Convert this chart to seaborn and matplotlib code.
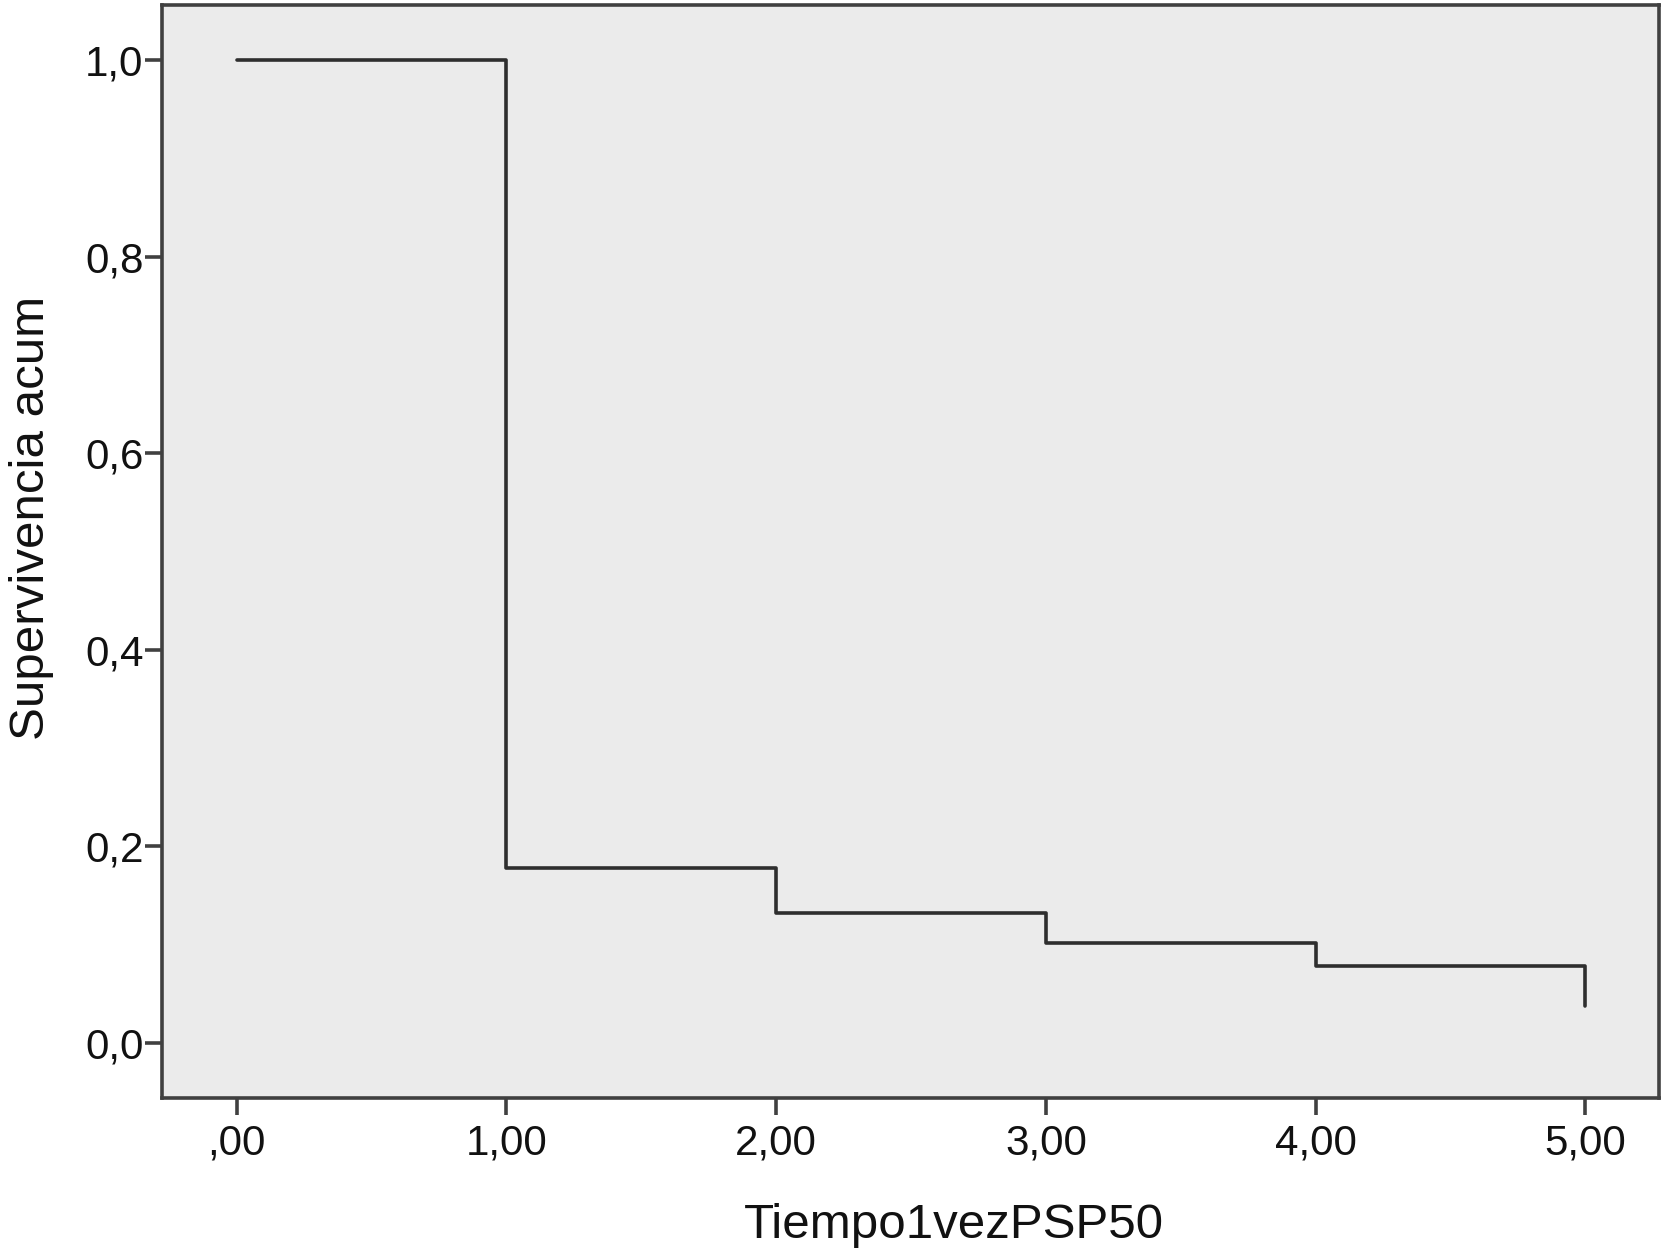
import seaborn as sns
import matplotlib.pyplot as plt
import pandas as pd
from matplotlib.ticker import FuncFormatter

# Kaplan-Meier style cumulative survival
tiempo = [0, 1, 2, 3, 4, 5]
supervivencia = [1.0, 0.1775, 0.132, 0.102, 0.078, 0.038]

x_ticks = [0, 1, 2, 3, 4, 5]
y_ticks = [0.0, 0.2, 0.4, 0.6, 0.8, 1.0]

LINE_COLOR = "#2e2e2e"
FACE_COLOR = "#ebebeb"
SPINE_COLOR = "#404040"

sns.set_style("ticks", {"axes.facecolor": FACE_COLOR})
plt.rcParams["font.family"] = ["Liberation Sans", "DejaVu Sans"]

df = pd.DataFrame({"Tiempo1vezPSP50": tiempo, "Supervivencia acum": supervivencia})

fig = plt.figure(figsize=(16.66, 12.52), dpi=100)
ax = fig.add_axes([0.097, 0.123, 0.899, 0.873])

sns.lineplot(
    data=df,
    x="Tiempo1vezPSP50",
    y="Supervivencia acum",
    drawstyle="steps-post",
    color=LINE_COLOR,
    linewidth=2.6,
    ax=ax,
)

ax.set_xlim(-0.278, 5.274)
ax.set_ylim(-0.056, 1.056)
ax.set_xticks(x_ticks)
ax.set_yticks(y_ticks)


def fmt_x(v, pos):
    s = f"{v:.2f}".replace(".", ",")
    return s[1:] if s.startswith("0,") else s


def fmt_y(v, pos):
    return f"{v:.1f}".replace(".", ",")


ax.xaxis.set_major_formatter(FuncFormatter(fmt_x))
ax.yaxis.set_major_formatter(FuncFormatter(fmt_y))

for side in ["top", "right", "bottom", "left"]:
    ax.spines[side].set_visible(True)
    ax.spines[side].set_color(SPINE_COLOR)
    ax.spines[side].set_linewidth(2.6)

ax.tick_params(axis="both", direction="out", length=12, width=2.6,
               color=SPINE_COLOR, labelsize=30.3, labelcolor="#111111")
ax.tick_params(axis="x", pad=6)
ax.tick_params(axis="y", pad=1)

ax.set_xlabel("Tiempo1vezPSP50", fontsize=35.5, color="#111111", labelpad=29)
ax.set_ylabel("Supervivencia acum", fontsize=35.5, color="#111111", labelpad=22)
# SPSS places the axis titles a little off-centre
ax.xaxis.label.set_x(0.529)
ax.yaxis.label.set_y(0.531)

fig.savefig("out.png", dpi=100, facecolor="white")
